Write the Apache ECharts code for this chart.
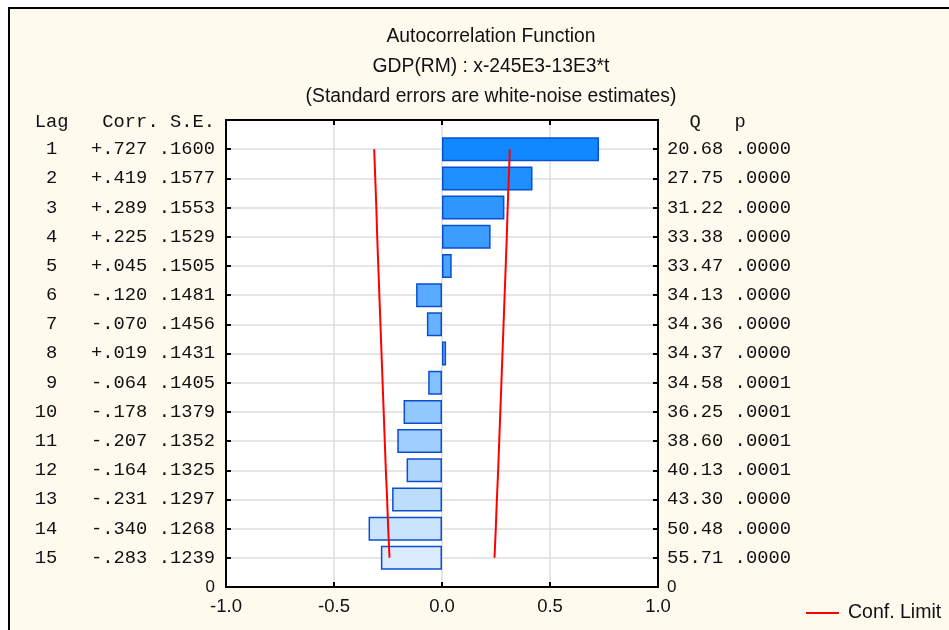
<!DOCTYPE html>
<html>
<head>
<meta charset="utf-8">
<script src="https://cdn.jsdelivr.net/npm/echarts@6/dist/echarts.min.js"></script>
<style>html,body{margin:0;padding:0;background:#fff;}#c{width:949px;height:630px;}</style>
</head>
<body>
<div id="c"></div>
<script>
const lags = [1,2,3,4,5,6,7,8,9,10,11,12,13,14,15];
const corr = [0.727,0.419,0.289,0.225,0.045,-0.120,-0.070,0.019,-0.064,-0.178,-0.207,-0.164,-0.231,-0.340,-0.283];
const se = [0.1600,0.1577,0.1553,0.1529,0.1505,0.1481,0.1456,0.1431,0.1405,0.1379,0.1352,0.1325,0.1297,0.1268,0.1239];
const qStat = [20.68,27.75,31.22,33.38,33.47,34.13,34.36,34.37,34.58,36.25,38.60,40.13,43.30,50.48,55.71];
const pVal = ['.0000','.0000','.0000','.0000','.0000','.0000','.0000','.0000','.0001','.0001','.0001','.0001','.0000','.0000','.0000'];
const confLimit = [0.314,0.309,0.304,0.300,0.295,0.290,0.285,0.280,0.275,0.270,0.265,0.260,0.254,0.249,0.243];
const xTicks = [-1.0,-0.5,0.0,0.5,1.0];

const cats = ['hdr'].concat(lags.map(String)).concat(['end']);
const pad = (s,n)=>{s=String(s);while(s.length<n)s=' '+s;return s;};
const fmtCorr = v => (v>=0?'+':'-') + Math.abs(v).toFixed(3).slice(1);
const fmtSe = v => v.toFixed(4).slice(1);

const c0=[17,136,255], c1=[217,235,253];
function barColor(i){
  const t=i/(lags.length-1);
  const c=c0.map((a,k)=>Math.round(a+(c1[k]-a)*t));
  return 'rgb('+c.join(',')+')';
}

const mono = 'Liberation Mono';
const sans = 'Liberation Sans';

const chart = echarts.init(document.getElementById('c'), null, {renderer:'canvas'});
chart.setOption({
  backgroundColor:'#ffffff',
  animation:false,
  graphic:[{type:'rect',z:-10,shape:{x:9,y:8,width:960,height:640},style:{fill:'#fff9ee',stroke:'#000',lineWidth:2}}],
  title:{
    text:'Autocorrelation Function\nGDP(RM) : x-245E3-13E3*t\n(Standard errors are white-noise estimates)',
    left:486, top:17, textAlign:'center',
    textStyle:{fontFamily:sans,fontSize:19.3,fontWeight:'normal',color:'#111',lineHeight:30}
  },
  legend:{
    data:['Conf. Limit'], left:801, top:598, itemWidth:33, itemHeight:2, icon:'rect', itemGap:10,
    textStyle:{fontFamily:sans,fontSize:19.5,color:'#111',padding:[0,0,0,4]}
  },
  grid:{left:226,top:120,width:432,height:467,show:true,backgroundColor:'#fff',borderColor:'#000',borderWidth:2},
  xAxis:[{
    type:'value',min:-1,max:1,interval:0.5,position:'bottom',
    axisLine:{show:true,onZero:false,lineStyle:{color:'#000',width:2}},
    axisTick:{show:true,inside:true,length:5,lineStyle:{color:'#000',width:2}},
    splitLine:{show:true,lineStyle:{color:'#dcdcdc',width:1.5}},
    axisLabel:{margin:10,fontFamily:sans,fontSize:18.5,color:'#111',showMinLabel:true,showMaxLabel:true,
      formatter:v=>xTicks.includes(v)?v.toFixed(1):''}
  },{
    type:'value',min:-1,max:1,interval:0.5,position:'top',
    axisLine:{show:true,onZero:false,lineStyle:{color:'#000',width:2}},
    axisTick:{show:true,inside:true,length:5,lineStyle:{color:'#000',width:2}},
    splitLine:{show:false},axisLabel:{show:false}
  }],
  yAxis:[{
    type:'category',data:cats,inverse:true,boundaryGap:false,position:'left',
    axisLine:{show:true,onZero:false,lineStyle:{color:'#000',width:2}},
    axisTick:{show:true,inside:true,length:5,interval:0,lineStyle:{color:'#000',width:2}},
    splitLine:{show:true,interval:0,lineStyle:{color:'#dcdcdc',width:1.5}},
    axisLabel:{interval:0,margin:11,fontFamily:mono,fontSize:18.8,color:'#111',
      formatter:(v,i)=>{
        if(i===0) return '{h|Lag   Corr. S.E.}';
        if(i===cats.length-1) return '{z|0}';
        const k=i-1;
        return pad(lags[k],2)+'   '+fmtCorr(corr[k])+' '+fmtSe(se[k]);
      },
      rich:{z:{fontFamily:sans,fontSize:17,color:'#111'},h:{fontFamily:mono,fontSize:18.8,color:'#111',padding:[4,0,0,0]}}
    }
  },{
    type:'category',data:cats,inverse:true,boundaryGap:false,position:'right',
    axisLine:{show:true,onZero:false,lineStyle:{color:'#000',width:2}},
    axisTick:{show:true,inside:true,length:5,interval:0,lineStyle:{color:'#000',width:2}},
    splitLine:{show:false},
    axisLabel:{interval:0,margin:9,fontFamily:mono,fontSize:18.8,color:'#111',
      formatter:(v,i)=>{
        if(i===0) return '{h|  Q   p}';
        if(i===cats.length-1) return '{z|0}';
        const k=i-1;
        return qStat[k].toFixed(2)+' '+pVal[k];
      },
      rich:{z:{fontFamily:sans,fontSize:17,color:'#111'},h:{fontFamily:mono,fontSize:18.8,color:'#111',padding:[4,0,0,0]}}
    }
  }],
  series:[{
    type:'bar',name:'Corr',yAxisIndex:0,xAxisIndex:0,barWidth:24,
    data:lags.map((l,i)=>[corr[i],String(l)]),
    itemStyle:{color:p=>barColor(p.dataIndex),borderColor:'#0a4fd0',borderWidth:1.5}
  },{
    type:'line',name:'Conf. Limit',yAxisIndex:0,xAxisIndex:0,symbol:'none',z:5,
    data:lags.map((l,i)=>[confLimit[i],String(l)]),
    lineStyle:{color:'#ff0000',width:2},itemStyle:{color:'#ff0000'}
  },{
    type:'line',name:'Conf. Limit',yAxisIndex:0,xAxisIndex:0,symbol:'none',z:5,
    data:lags.map((l,i)=>[-confLimit[i],String(l)]),
    lineStyle:{color:'#ff0000',width:2},itemStyle:{color:'#ff0000'}
  }]
});
</script>
</body>
</html>
